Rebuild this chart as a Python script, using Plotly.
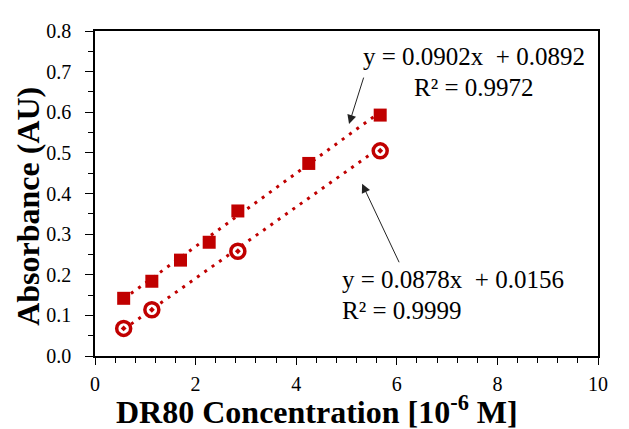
import plotly.graph_objects as go

# Data
conc_sq = [0.57, 1.13, 1.70, 2.27, 2.84, 4.25, 5.67]
abs_sq = [0.142, 0.184, 0.236, 0.280, 0.357, 0.474, 0.593]
conc_ci = [0.57, 1.13, 2.84, 5.67]
abs_ci = [0.068, 0.114, 0.258, 0.505]
fit_sq = (0.0902, 0.0892)
fit_ci = (0.0878, 0.0156)
xticks = [0, 2, 4, 6, 8, 10]
yticks = [0.0, 0.1, 0.2, 0.3, 0.4, 0.5, 0.6, 0.7, 0.8]

RED = "#C00000"
SERIF = "Liberation Serif, Times New Roman, serif"

def fit_line(xs, fit):
    x0, x1 = min(xs), max(xs)
    return [x0, x1], [fit[0] * x0 + fit[1], fit[0] * x1 + fit[1]]

fig = go.Figure()
lx, ly = fit_line(conc_sq, fit_sq)
fig.add_trace(go.Scatter(x=lx, y=ly, mode="lines",
                         line=dict(color=RED, width=3, dash="3px,6px"), showlegend=False))
lx, ly = fit_line(conc_ci, fit_ci)
fig.add_trace(go.Scatter(x=lx, y=ly, mode="lines",
                         line=dict(color=RED, width=3, dash="3px,6px"), showlegend=False))
fig.add_trace(go.Scatter(x=conc_sq, y=abs_sq, mode="markers",
                         marker=dict(symbol="square", size=13, color=RED), showlegend=False))
fig.add_trace(go.Scatter(x=conc_ci, y=abs_ci, mode="markers",
                         marker=dict(symbol="circle-dot", size=14, color="white",
                                     line=dict(color=RED, width=3.5)), showlegend=False))

ann_font = dict(family=SERIF, size=25, color="black")
annotations = [
    dict(x=7.53, y=0.737, text="y = 0.0902x  + 0.0892", showarrow=False, xanchor="center", yanchor="middle", font=ann_font),
    dict(x=7.53, y=0.660, text="R² = 0.9972", showarrow=False, xanchor="center", yanchor="middle", font=ann_font),
    dict(x=4.87, y=0.189, text="y = 0.0878x  + 0.0156", showarrow=False, xanchor="left", yanchor="middle", font=ann_font),
    dict(x=4.87, y=0.112, text="R² = 0.9999", showarrow=False, xanchor="left", yanchor="middle", font=ann_font),
    dict(x=5.05, y=0.571, ax=5.35, ay=0.689, axref="x", ayref="y", text="", showarrow=True,
         arrowhead=2, arrowsize=1.8, arrowwidth=1, arrowcolor="#222222"),
    dict(x=5.31, y=0.424, ax=6.06, ay=0.227, axref="x", ayref="y", text="", showarrow=True,
         arrowhead=2, arrowsize=1.8, arrowwidth=1, arrowcolor="#222222"),
    # axis titles
    dict(x=0.441, y=0, xref="paper", yref="paper", xanchor="center", yanchor="middle", yshift=-54,
         text="<b>DR80 Concentration [10<sup>-6</sup> M]</b>", showarrow=False,
         font=dict(family=SERIF, size=32, color="black")),
    dict(x=0, y=0.459, xref="paper", yref="paper", xanchor="center", yanchor="middle", xshift=-67,
         textangle=-90, text="<b>Absorbance (AU)</b>", showarrow=False,
         font=dict(family=SERIF, size=32, color="black")),
]

fig.update_layout(
    width=621, height=421,
    margin=dict(l=87, r=31, t=16, b=72.5),
    paper_bgcolor="white", plot_bgcolor="white",
    font=dict(family=SERIF, color="black"),
    annotations=annotations,
    xaxis=dict(range=[0, 10], tickvals=xticks, ticktext=[str(v) for v in xticks],
               showgrid=False, zeroline=False, showline=True, linecolor="black", linewidth=1.5,
               mirror=True, ticks="outside", ticklen=7, tickwidth=1.2, tickcolor="black",
               minor=dict(ticks="outside", dtick=0.4, tick0=0, ticklen=5, tickwidth=1.2, tickcolor="black"),
               tickfont=dict(family=SERIF, size=20, color="black"), ticklabelstandoff=2),
    yaxis=dict(range=[0, 0.8], tickvals=yticks, ticktext=[f"{v:.1f}" for v in yticks],
               showgrid=False, zeroline=False, showline=True, linecolor="black", linewidth=1.5,
               mirror=True, ticks="outside", ticklen=8, tickwidth=1.2, tickcolor="black",
               minor=dict(ticks="outside", dtick=0.05, tick0=0, ticklen=5, tickwidth=1.2, tickcolor="black"),
               tickfont=dict(family=SERIF, size=20, color="black"), ticklabelstandoff=10),
)

fig.write_html("out.html")
